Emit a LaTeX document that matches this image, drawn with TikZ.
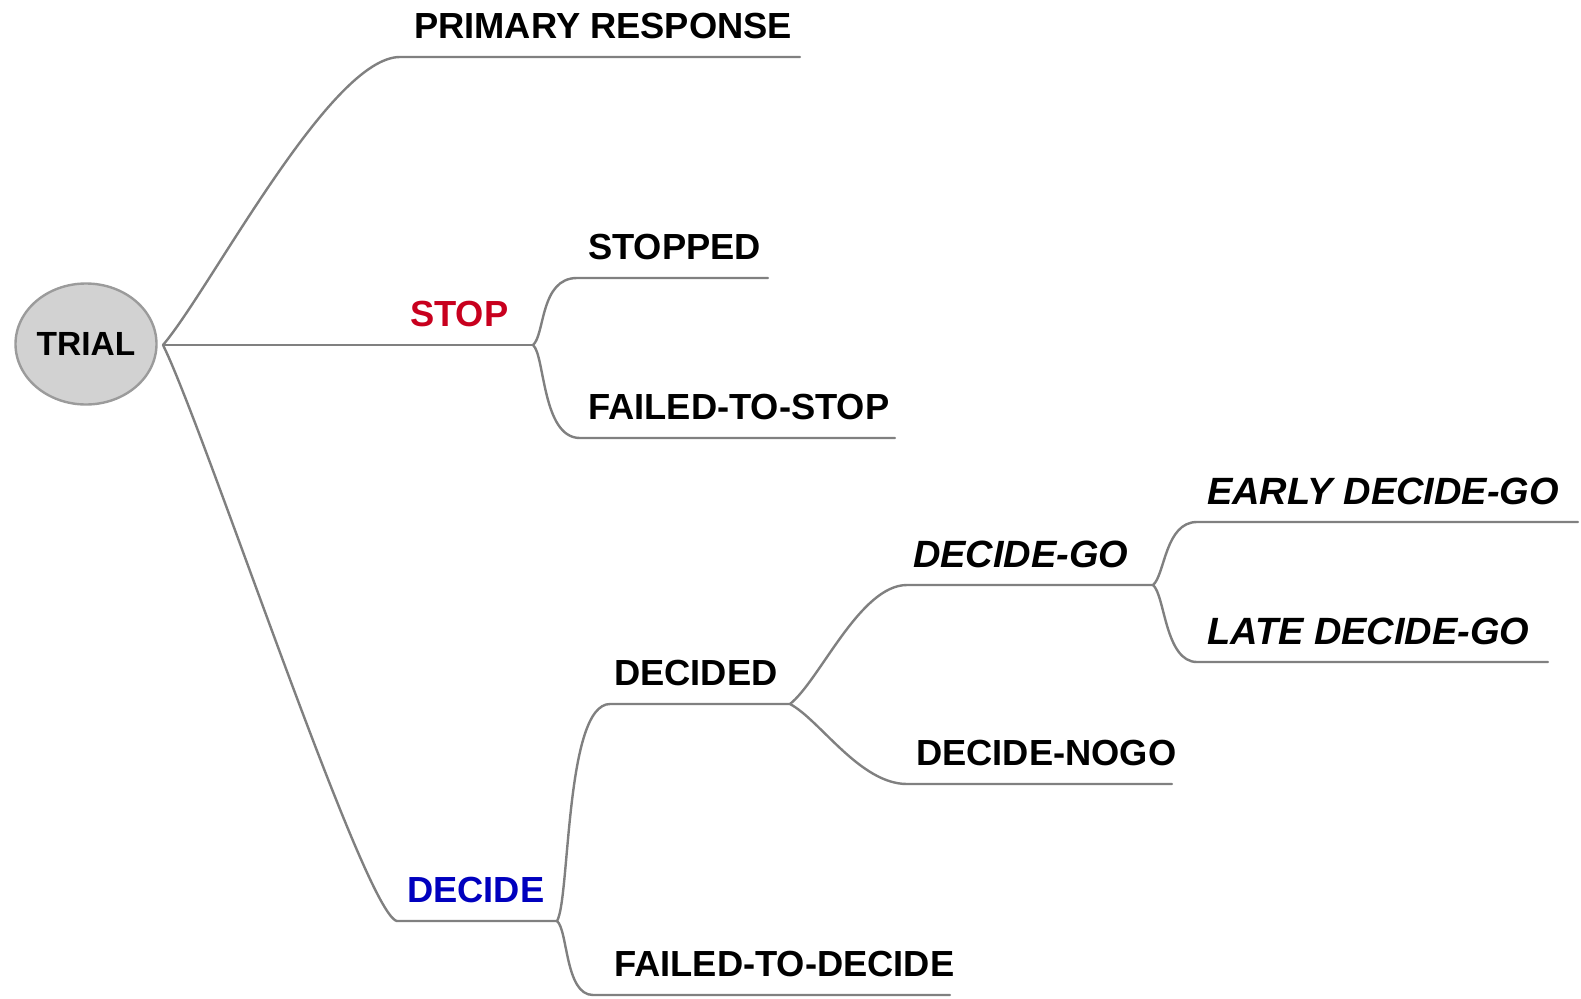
\documentclass[tikz,border=0pt]{standalone}
\usepackage{fontspec}
\setmainfont{Liberation Sans}
\usetikzlibrary{shapes.geometric}
\definecolor{linegray}{RGB}{128,128,128}
\definecolor{stopred}{RGB}{200,0,30}
\definecolor{decblue}{RGB}{0,0,190}
\definecolor{nodefill}{RGB}{210,210,210}
\definecolor{nodeedge}{RGB}{155,155,155}
\begin{document}
\begin{tikzpicture}[x=1pt,y=-1pt,
  branch/.style={draw=linegray, line width=2.4pt, line cap=round},
  lbl/.style={anchor=base west, inner sep=0pt, font=\fontsize{36.3}{40}\selectfont\bfseries},
  ilbl/.style={anchor=base west, inner sep=0pt, font=\fontsize{38}{42}\selectfont\bfseries\itshape},
  rootnode/.style={ellipse, draw=nodeedge, fill=nodefill, line width=2.4pt, minimum width=141pt, minimum height=121pt, inner sep=0pt, font=\fontsize{33.5}{38}\selectfont\bfseries}]
\useasboundingbox (0,0) rectangle (1581,998);

% root
\node[rootnode] (trial) at (86,344) {TRIAL};
\coordinate (root) at (163,345);

% fork points and underline ends
\coordinate (prS) at (400,57);   \coordinate (prE) at (800,57);
\coordinate (stopF) at (533,345);
\coordinate (stdS) at (577,278); \coordinate (stdE) at (768,278);
\coordinate (ftsS) at (580,438); \coordinate (ftsE) at (895,438);
\coordinate (decS) at (397,921); \coordinate (decF) at (557,921);
\coordinate (dedS) at (610,704); \coordinate (dedF) at (790,704);
\coordinate (ftdS) at (593,995); \coordinate (ftdE) at (950,995);
\coordinate (goS) at (907,585);  \coordinate (goF) at (1153,585);
\coordinate (ngS) at (907,784);  \coordinate (ngE) at (1172,784);
\coordinate (earS) at (1197,522); \coordinate (earE) at (1578,522);
\coordinate (latS) at (1197,662); \coordinate (latE) at (1548,662);

% labels
\node[lbl] (pr) at (414,38) {PRIMARY RESPONSE};
\node[lbl, text=stopred] (stop) at (410,326) {STOP};
\node[lbl] (stopped) at (588,259) {STOPPED};
\node[lbl] (fts) at (588,419) {FAILED-TO-STOP};
\node[lbl, text=decblue] (decide) at (407,902) {DECIDE};
\node[lbl] (decided) at (614,685) {DECIDED};
\node[lbl] (ftd) at (614,976) {FAILED-TO-DECIDE};
\node[ilbl] (dgo) at (913,567) {DECIDE-GO};
\node[lbl] (nogo) at (916,765) {DECIDE-NOGO};
\node[ilbl] (early) at (1207,504) {EARLY DECIDE-GO};
\node[ilbl] (late) at (1207,644) {LATE DECIDE-GO};

% connectors
\draw[branch] (root) .. controls (210,290) and (330,57) .. (prS) -- (prE);
\draw[branch] (root) -- (stopF);
\draw[branch] (stopF) .. controls (545,335) and (540,278) .. (stdS) -- (stdE);
\draw[branch] (stopF) .. controls (545,355) and (542,438) .. (ftsS) -- (ftsE);
\draw[branch] (root) .. controls (205,430) and (365,915) .. (decS) -- (decF);
\draw[branch] (decF) .. controls (570,900) and (565,704) .. (dedS) -- (dedF);
\draw[branch] (decF) .. controls (568,930) and (565,995) .. (ftdS) -- (ftdE);
\draw[branch] (dedF) .. controls (820,680) and (860,585) .. (goS) -- (goF);
\draw[branch] (dedF) .. controls (820,720) and (860,784) .. (ngS) -- (ngE);
\draw[branch] (goF) .. controls (1165,575) and (1165,522) .. (earS) -- (earE);
\draw[branch] (goF) .. controls (1165,595) and (1165,662) .. (latS) -- (latE);
\end{tikzpicture}
\end{document}
